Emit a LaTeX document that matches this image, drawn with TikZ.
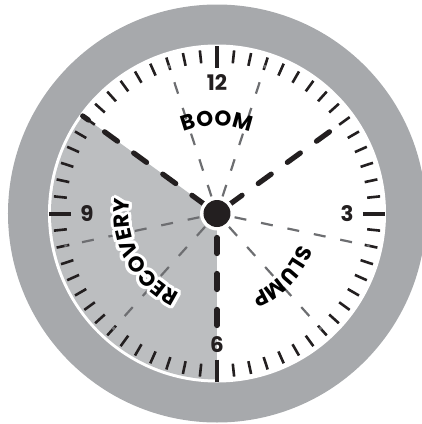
\documentclass[tikz,border=0pt]{standalone}
\usepackage{fontspec}
\setmainfont{Poppins}
\usepackage{tikz}
\usetikzlibrary{decorations.text}
\definecolor{ringgray}{RGB}{167,169,172}
\definecolor{sectorgray}{RGB}{188,190,192}
\definecolor{guidegray}{RGB}{109,110,113}
\definecolor{inkblack}{RGB}{35,31,32}
\newcommand{\lblfont}{\bfseries\fontsize{21.5}{21.5}\selectfont}
\tikzset{
  hand/.style     ={line width=5.2bp, draw=inkblack, line cap=round, dash pattern=on 16bp off 20bp},
  guide/.style    ={line width=2.2bp, draw=guidegray, dash pattern=on 12bp off 15bp},
  minortick/.style={line width=2.6bp, draw=inkblack},
  majortick/.style={line width=4bp, draw=inkblack},
  hourlbl/.style  ={font=\lblfont, text=inkblack, inner sep=0pt},
  phaselbl/.style ={decorate, decoration={text along path, text align=center, text={|\lblfont|#1}}},
  phasehalo/.style={decorate, decoration={text along path, text align=center, text={|\lblfont\color{white}|#1}}},
}

\begin{document}
\begin{tikzpicture}[x=1bp,y=1bp]
\useasboundingbox (-217,-210.5) rectangle (205,213.5);
\coordinate (c) at (0,0);
% case, face and the recovery sector
\fill[ringgray] (c) circle (209);
\fill[white] (c) circle (169);
\fill[sectorgray] (c) -- (144:166) arc[start angle=144, end angle=270, radius=166] -- cycle;
% minute and hour ticks
\foreach \m in {1,...,59}{
  \pgfmathtruncatemacro{\r}{mod(\m,15)}
  \ifnum\r>0 \draw[minortick] (90-6*\m:151) -- (90-6*\m:164); \fi
}
\foreach \a in {0,90,180,270} \draw[majortick] (\a:146) -- (\a:168);
% thin guides
\foreach \a in {72,108,-12,-48,192,228} \draw[guide] (\a:18) -- (\a:156);
% hands
\draw[hand] (36:15) -- (36:139);
\draw[hand] (144:15) -- (144:166);
\draw[hand] (270:24) -- (270:113);
% hub
\fill[white] (c) circle (17);
\fill[inkblack] (c) circle (13.5);
% hour numbers
\node[hourlbl] (h12) at (90:131) {12};
\node[hourlbl] (h3) at (0:130) {3};
\node[hourlbl] (h6) at (270:131) {6};
\node[hourlbl] (h9) at (180:130) {9};
% phase names
\path[phaselbl=BOOM] (140:88) arc[start angle=140, end angle=40, radius=88];
\foreach \a in {0,20,...,340}
  \path[phasehalo=RECOVERY, shift={(\a:3)}] (268:88) arc[start angle=268, end angle=148, radius=88];
\path[phaselbl=RECOVERY] (268:88) arc[start angle=268, end angle=148, radius=88];
\path[phaselbl=SLUMP] (16:88) arc[start angle=16, end angle=-104, radius=88];
\end{tikzpicture}
\end{document}
